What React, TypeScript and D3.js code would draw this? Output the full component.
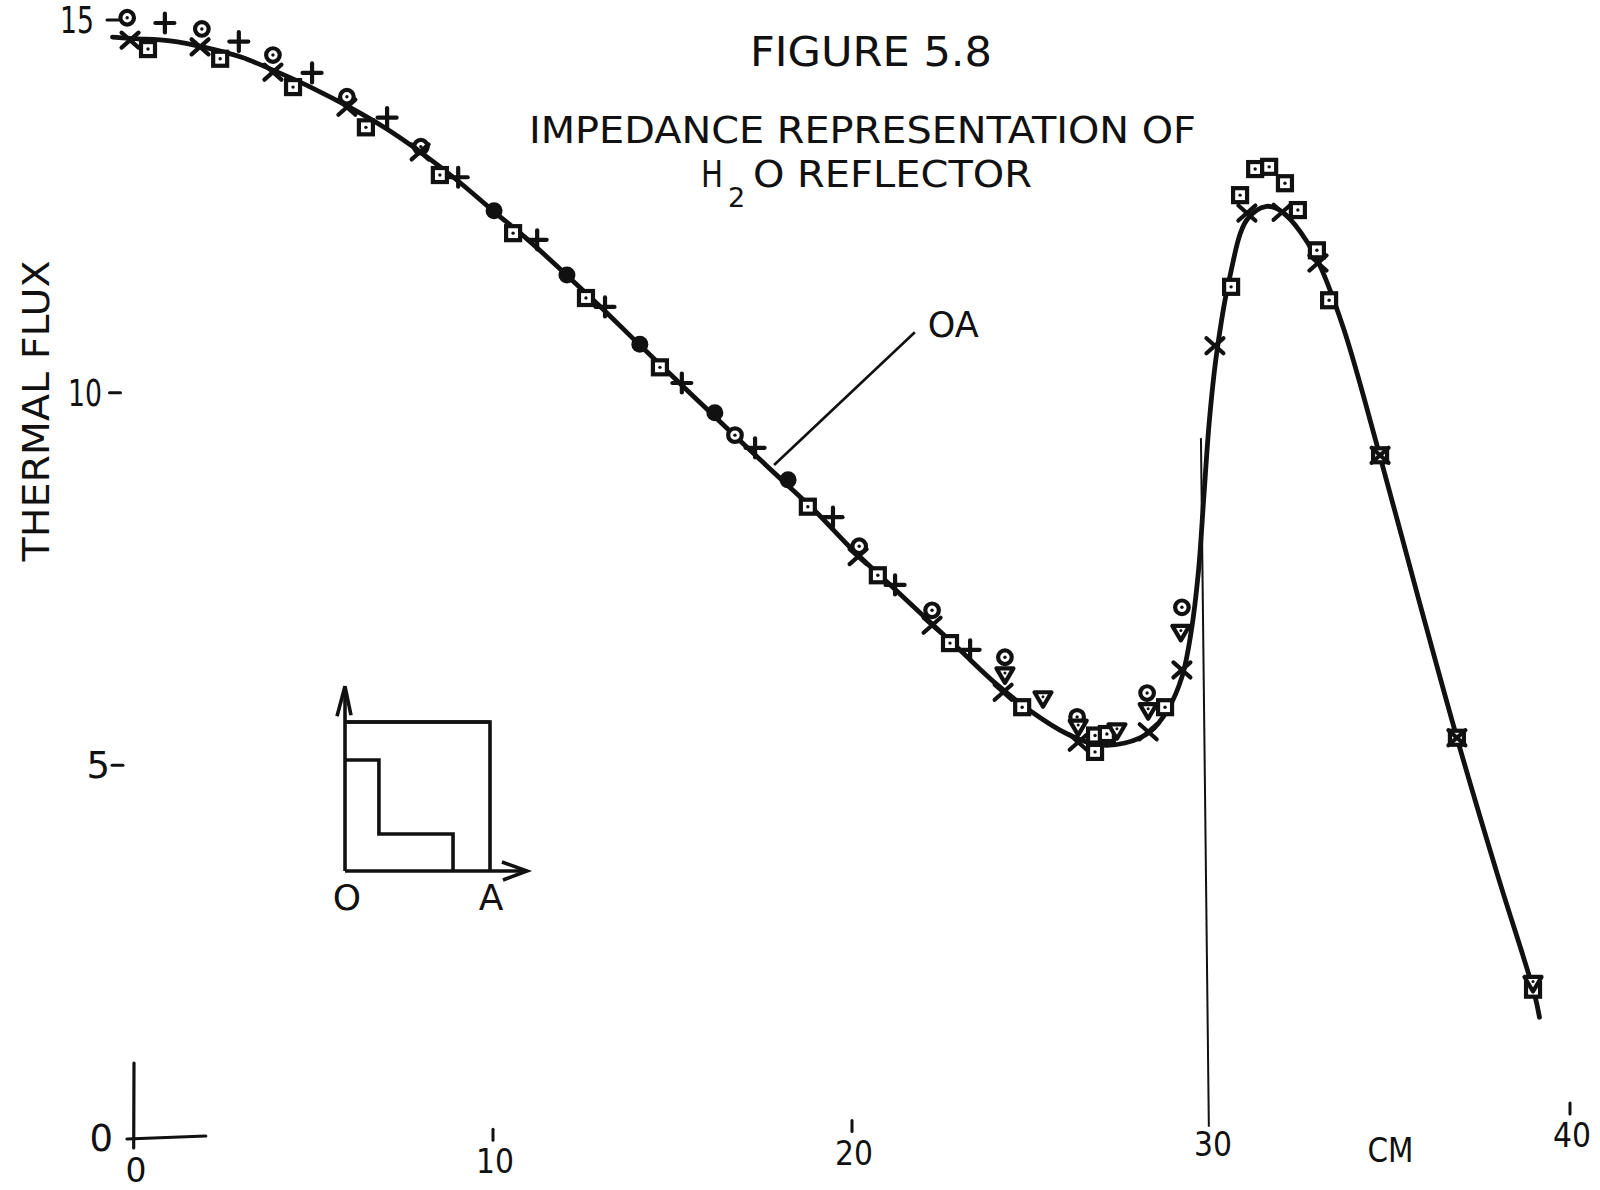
import React from 'react';
import * as d3 from 'd3';

// ---------- data ----------
const xTickValues = [0, 10, 20, 30, 40];
const xTickStubValues = [10, 20, 40];
const yTickValues = [0, 5, 10, 15];
const xTickLabels = ['0', '10', '20', '30', '40'];
const yTickLabels = ['0', '5', '10', '15'];

// smooth "OA" curve
const curveX = [-0.6, 0, 1, 2, 3, 4, 5, 6, 7, 8, 9, 10, 11, 12, 13, 14, 15, 16, 17, 18, 19, 20, 21, 22, 23, 24, 25, 26, 26.8, 27.6, 28.3, 28.8, 29.2, 29.45, 29.65, 29.8, 29.95, 30.15, 30.5, 31.0, 31.55, 32.0, 32.5, 33.0, 33.7, 34.7, 35.8, 36.85, 38.0, 39.0, 39.15];
const curveY = [14.77, 14.75, 14.72, 14.63, 14.5, 14.3, 14.08, 13.83, 13.55, 13.22, 12.85, 12.44, 12.04, 11.6, 11.15, 10.68, 10.22, 9.76, 9.3, 8.85, 8.4, 7.9, 7.45, 7.0, 6.55, 6.1, 5.72, 5.42, 5.28, 5.3, 5.45, 5.75, 6.2, 6.8, 7.6, 8.6, 9.6, 10.5, 11.5, 12.32, 12.5, 12.42, 12.15, 11.74, 10.85, 9.16, 7.2, 5.37, 3.5, 1.95, 1.62];

// × markers
const crossX = [-0.11, 1.84, 3.87, 5.93, 7.97, 20.17, 22.23, 24.21, 26.3, 28.25, 29.19, 30.11, 31.0, 31.98, 32.98, 34.71, 36.85];
const crossY = [14.73, 14.64, 14.3, 13.83, 13.23, 7.8, 6.88, 5.98, 5.31, 5.45, 6.28, 10.63, 12.41, 12.42, 11.74, 9.16, 5.37];

// + markers
const plusX = [0.86, 2.92, 4.96, 7.05, 9.03, 11.23, 13.12, 15.26, 17.3, 19.47, 21.2, 23.29];
const plusY = [14.96, 14.71, 14.29, 13.69, 12.89, 12.05, 11.15, 10.13, 9.26, 8.33, 7.42, 6.55];

// square (dotted) markers
const squareX = [0.39, 2.4, 4.43, 6.46, 8.52, 10.56, 12.59, 14.65, 18.77, 20.72, 22.73, 24.74, 26.77, 26.77, 27.1, 28.72, 30.56, 30.81, 31.23, 31.62, 32.06, 32.42, 32.95, 33.29, 34.71, 36.85, 38.97];
const squareY = [14.61, 14.48, 14.1, 13.56, 12.92, 12.14, 11.27, 10.34, 8.47, 7.55, 6.64, 5.78, 5.4, 5.18, 5.42, 5.78, 11.42, 12.65, 13.0, 13.03, 12.81, 12.45, 11.91, 11.24, 9.16, 5.37, 1.99];

// dotted circle markers
const ringX = [-0.19, 1.89, 3.87, 5.93, 7.99, 16.74, 20.2, 22.23, 24.26, 26.27, 28.22, 29.19];
const ringY = [15.03, 14.88, 14.53, 13.97, 13.3, 9.43, 7.94, 7.08, 6.45, 5.65, 5.97, 7.12];

// filled circle markers
const dotX = [10.03, 12.06, 14.09, 16.18, 18.22];
const dotY = [12.44, 11.58, 10.65, 9.73, 8.83];

// triangle markers
const triX = [24.26, 25.32, 26.3, 27.38, 28.25, 29.16, 38.97];
const triY = [6.22, 5.9, 5.52, 5.47, 5.74, 6.79, 2.08];

// thin boundary line and OA leader line
const boundaryX = [29.72, 29.94];
const boundaryY = [9.39, 0.15];
const leaderX = [21.75, 17.83];
const leaderY = [10.81, 9.03];

// inset sketch (unit coordinates of the little diagram)
const insetStepX = [0, 0.234, 0.234, 0.745, 0.745];
const insetStepY = [0.745, 0.745, 0.248, 0.248, 0];
const insetBoxX = [0, 1, 1];
const insetBoxY = [1, 1, 0];

const FONT = "'DejaVu Sans', 'Liberation Sans', sans-serif";
const INK = '#111';

export default function App() {
  const W = 1600;
  const H = 1190;
  const x = d3.scaleLinear().domain([0, 40]).range([134, 1570]);
  const y = d3.scaleLinear().domain([0, 15]).range([1138, 20]);

  const line = d3.line<[number, number]>().curve(d3.curveCatmullRom.alpha(0.5));
  const curvePath = line(curveX.map((v, i) => [x(v), y(curveY[i])] as [number, number])) || '';

  // hand-lettered baselines slant slightly
  const xLabelCy = (px: number) => 1170 - 0.0244 * (px - 136);
  const yLabelRight = (py: number) => 94 + 0.0214 * (py - 20);
  const yDashRight = (py: number) => 118 + 0.0067 * (py - 20);
  const digitLen = (s: string) => (s.length > 1 ? 17 * s.length : undefined);

  const ix = d3.scaleLinear().domain([0, 1]).range([345, 490]);
  const iy = d3.scaleLinear().domain([0, 1]).range([871, 722]);
  const straight = d3.line<[number, number]>();
  const stepPath = straight(insetStepX.map((v, i) => [ix(v), iy(insetStepY[i])] as [number, number])) || '';
  const boxPath = straight(insetBoxX.map((v, i) => [ix(v), iy(insetBoxY[i])] as [number, number])) || '';

  const sw = 4.2;

  return (
    <svg
      width={W}
      height={H}
      viewBox={`0 0 ${W} ${H}`}
      style={{ position: 'absolute', left: 0, top: 0, background: '#fff' }}
      fontFamily={FONT}
    >
      <rect x={0} y={0} width={W} height={H} fill="#fff" />

      {/* titles */}
      <text x={750} y={66} fontSize={40} fill={INK} textLength={242} lengthAdjust="spacingAndGlyphs">FIGURE 5.8</text>
      <text x={529} y={143} fontSize={36.5} fill={INK} textLength={667} lengthAdjust="spacingAndGlyphs">IMPEDANCE REPRESENTATION OF</text>
      <text x={701} y={187} fontSize={36.5} fill={INK} textLength={22} lengthAdjust="spacingAndGlyphs">H</text>
      <text x={728} y={207} fontSize={27} fill={INK}>2</text>
      <text x={753} y={187} fontSize={36.5} fill={INK} textLength={279} lengthAdjust="spacingAndGlyphs">O REFLECTOR</text>

      {/* y axis title */}
      <text
        transform="translate(49,411) rotate(-90)"
        textAnchor="middle"
        fontSize={37}
        fill={INK}
        textLength={301}
        lengthAdjust="spacingAndGlyphs"
      >
        THERMAL FLUX
      </text>

      {/* y ticks */}
      {yTickValues.map((v, i) => {
        const py = y(v);
        return (
          <g key={`yt${v}`}>
            {v !== 0 && (
              <line x1={yDashRight(py) - 11} x2={yDashRight(py)} y1={py} y2={py} stroke={INK} strokeWidth={3} strokeLinecap="round" />
            )}
            <text
              x={v === 0 ? 113 : yLabelRight(py)}
              y={py + 13}
              fontSize={37}
              textAnchor="end"
              fill={INK}
              textLength={digitLen(yTickLabels[i])}
              lengthAdjust="spacingAndGlyphs"
            >
              {yTickLabels[i]}
            </text>
          </g>
        );
      })}

      {/* origin cross */}
      <line x1={x(0)} x2={x(0) - 0.3} y1={y(0) - 75} y2={y(0) + 10} stroke={INK} strokeWidth={3.2} strokeLinecap="round" />
      <line x1={x(0) - 7} x2={x(2)} y1={y(0) + 1} y2={y(0) - 2} stroke={INK} strokeWidth={3.2} strokeLinecap="round" />

      {/* x ticks */}
      {xTickValues.map((v, i) => {
        const px = x(v);
        const cy = xLabelCy(px);
        return (
          <text
            key={`xt${v}`}
            x={px + 2}
            y={cy + 12}
            fontSize={33}
            textAnchor="middle"
            fill={INK}
            textLength={xTickLabels[i].length > 1 ? 19 * xTickLabels[i].length : undefined}
            lengthAdjust="spacingAndGlyphs"
          >
            {xTickLabels[i]}
          </text>
        );
      })}
      {xTickStubValues.map((v) => {
        const px = x(v);
        const cy = xLabelCy(px);
        return <line key={`xs${v}`} x1={px} x2={px} y1={cy - 32} y2={cy - 21} stroke={INK} strokeWidth={3} strokeLinecap="round" />;
      })}
      <text x={x(35)} y={1162} fontSize={33} textAnchor="middle" fill={INK} textLength={46} lengthAdjust="spacingAndGlyphs">CM</text>

      {/* boundary line */}
      <line x1={x(boundaryX[0])} y1={y(boundaryY[0])} x2={x(boundaryX[1])} y2={y(boundaryY[1])} stroke={INK} strokeWidth={2} />

      {/* OA leader */}
      <line x1={x(leaderX[0])} y1={y(leaderY[0])} x2={x(leaderX[1])} y2={y(leaderY[1])} stroke={INK} strokeWidth={2.6} />
      <text x={x(leaderX[0]) + 13} y={y(leaderY[0]) + 5} fontSize={35} fill={INK} textLength={51} lengthAdjust="spacingAndGlyphs">OA</text>

      {/* curve */}
      <path d={curvePath} fill="none" stroke={INK} strokeWidth={4.8} strokeLinejoin="round" strokeLinecap="round" />

      {/* markers: squares */}
      {squareX.map((v, i) => (
        <g key={`sq${i}`} transform={`translate(${x(v)},${y(squareY[i])})`}>
          <rect x={-7} y={-7} width={14} height={14} fill="#fff" stroke={INK} strokeWidth={sw} />
          <circle r={1.7} fill={INK} />
        </g>
      ))}
      {/* rings */}
      {ringX.map((v, i) => (
        <g key={`rg${i}`} transform={`translate(${x(v)},${y(ringY[i])})`}>
          <circle r={6.8} fill="#fff" stroke={INK} strokeWidth={sw} />
          <circle r={1.7} fill={INK} />
        </g>
      ))}
      {/* triangles */}
      {triX.map((v, i) => (
        <g key={`tr${i}`} transform={`translate(${x(v)},${y(triY[i])})`}>
          <path d="M-8.5,-6 L8.5,-6 L0,8.5 Z" fill="#fff" stroke={INK} strokeWidth={sw} strokeLinejoin="round" />
          <circle cy={-1.5} r={1.5} fill={INK} />
        </g>
      ))}
      {/* filled circles */}
      {dotX.map((v, i) => (
        <circle key={`dt${i}`} cx={x(v)} cy={y(dotY[i])} r={8.5} fill={INK} />
      ))}
      {/* crosses */}
      {crossX.map((v, i) => (
        <g key={`cr${i}`} transform={`translate(${x(v)},${y(crossY[i])})`} stroke={INK} strokeWidth={sw} strokeLinecap="round">
          <line x1={-8.5} y1={-7.5} x2={8.5} y2={7.5} />
          <line x1={-8.5} y1={7.5} x2={8.5} y2={-7.5} />
        </g>
      ))}
      {/* plus */}
      {plusX.map((v, i) => (
        <g key={`pl${i}`} transform={`translate(${x(v)},${y(plusY[i])})`} stroke={INK} strokeWidth={sw} strokeLinecap="round">
          <line x1={-9.5} y1={0} x2={9.5} y2={0} />
          <line x1={0} y1={-9.5} x2={0} y2={9.5} />
        </g>
      ))}

      {/* inset diagram */}
      <g stroke={INK} strokeWidth={3.6} fill="none" strokeLinejoin="miter">
        <line x1={ix(0)} y1={iy(0)} x2={ix(0)} y2={iy(1.24)} />
        <path d={`M${ix(0) - 8},${iy(1.24) + 30} L${ix(0)},${iy(1.24)} L${ix(0) + 6},${iy(1.24) + 29}`} />
        <line x1={ix(0)} y1={iy(0)} x2={ix(1.255)} y2={iy(0)} />
        <path d={`M${ix(1.255) - 25},${iy(0) - 9} L${ix(1.255)},${iy(0)} L${ix(1.255) - 24},${iy(0) + 9}`} />
        <path d={boxPath} />
        <line x1={ix(0)} y1={iy(1)} x2={ix(1)} y2={iy(1)} />
        <path d={stepPath} />
      </g>
      <text x={ix(0) + 2} y={910} fontSize={36} textAnchor="middle" fill={INK}>O</text>
      <text x={ix(1) + 1} y={910} fontSize={36} textAnchor="middle" fill={INK}>A</text>
    </svg>
  );
}
